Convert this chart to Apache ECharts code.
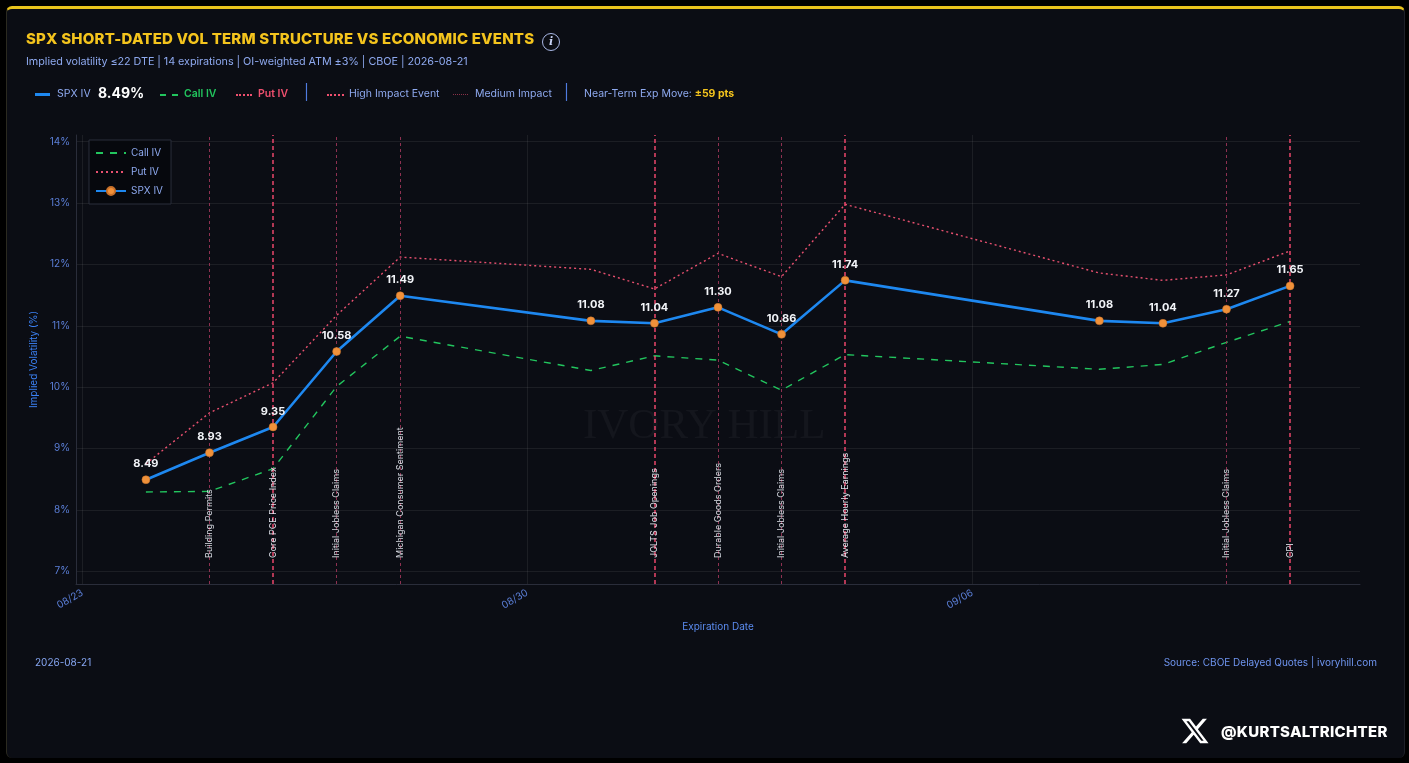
<!DOCTYPE html>
<html>
<head>
<meta charset="utf-8">
<title>SPX Short-Dated Vol Term Structure</title>
<script src="https://cdn.jsdelivr.net/npm/echarts@6/dist/echarts.min.js"></script>
<style>
    html, body { margin: 0; padding: 0; background: #000; width: 1409px; height: 763px; overflow: hidden; font-family: Inter, Roboto, "Noto Sans", sans-serif; }
    .card { position: absolute; left: 6px; top: 6px; width: 1399px; height: 752px; background: #0b0d14; border-top: 3px solid #e9c41c; border-left: 1px solid #2b2a20; border-right: 1px solid #1e2028; border-radius: 6px; box-sizing: border-box; }
    #chart { position: absolute; left: 0; top: 0; width: 1409px; height: 763px; }
    .title { position: absolute; left: 26px; top: 29px; color: #f4c41d; font-weight: 800; font-size: 15px; letter-spacing: 0.2px; white-space: nowrap; }
    .info { position: absolute; left: 542px; top: 33px; width: 16px; height: 16px; border: 1.5px solid #a9b8e6; border-radius: 50%; color: #c9d4f5; font: italic bold 11px "DejaVu Serif", serif; text-align: center; line-height: 16px; }
    .sub { position: absolute; left: 26px; top: 55px; color: #8ea9ef; font-size: 10.8px; letter-spacing: -0.05px; white-space: nowrap; }
    .lg { position: absolute; top: 87px; height: 14px; line-height: 14px; font-size: 10.5px; color: #8ea9ef; white-space: nowrap; }
    .sw { position: absolute; top: 94px; height: 0; }
    .footer-l { position: absolute; left: 35px; top: 656px; color: #86a6f2; font-size: 10px; }
    .footer-r { position: absolute; right: 32px; top: 656px; color: #6f95f0; font-size: 10px; }
    .handle { position: absolute; left: 1180px; top: 716px; display: flex; align-items: center; color: #fff; font-weight: 800; font-size: 15px; letter-spacing: 0.3px; }
    .handle svg { margin-right: 11px; }
</style>
</head>
<body>
<div class="card"></div>
<div id="chart"></div>
<div class="title">SPX SHORT-DATED VOL TERM STRUCTURE VS ECONOMIC EVENTS</div>
<div class="info">i</div>
<div class="sub">Implied volatility ≤22 DTE | 14 expirations | OI-weighted ATM ±3% | CBOE | 2026-08-21</div>

<div class="sw" style="left:35px;width:15px;top:93px;border-top:3px solid #1e88f0;"></div>
<div class="lg" style="left:57px;">SPX IV</div>
<div class="lg" style="left:98px;top:86px;color:#fff;font-weight:700;font-size:14px;">8.49%</div>
<div class="sw" style="left:160px;width:18px;border-top:2px dashed #22c55e;"></div>
<div class="lg" style="left:184px;color:#22c55e;font-weight:600;">Call IV</div>
<div class="sw" style="left:236px;width:16px;border-top:2px dotted #f0506f;"></div>
<div class="lg" style="left:258px;color:#f0506f;font-weight:600;">Put IV</div>
<div class="lg" style="left:304px;top:85px;font-size:15px;color:#4f7be0;">|</div>
<div class="sw" style="left:327px;width:17px;border-top:2px dotted #f0506f;"></div>
<div class="lg" style="left:349px;">High Impact Event</div>
<div class="sw" style="left:453px;width:15px;border-top:1px dotted #8a3048;"></div>
<div class="lg" style="left:475px;">Medium Impact</div>
<div class="lg" style="left:564px;top:85px;font-size:15px;color:#4f7be0;">|</div>
<div class="lg" style="left:584px;">Near-Term Exp Move: <span style="color:#f4c41d;font-weight:700;">±59 pts</span></div>

<div class="footer-l">2026-08-21</div>
<div class="footer-r">Source: CBOE Delayed Quotes | ivoryhill.com</div>
<div class="handle">
    <svg width="30" height="30" viewBox="0 0 24 24"><path fill="#fff" d="M18.24 2.25h3.31l-7.23 8.26 8.5 11.24h-6.66l-5.21-6.82-5.970 6.82H1.68l7.73-8.84L1.25 2.25h6.83l4.71 6.23 5.45-6.23zm-1.16 17.52h1.830L7.08 4.13H5.12l11.96 15.64z"/></svg>
    <span>@KURTSALTRICHTER</span>
</div>

<script>
// 到期日与隐含波动率
var expiries = ['2026-08-24', '2026-08-25', '2026-08-26', '2026-08-27', '2026-08-28', '2026-08-31', '2026-09-01',
    '2026-09-02', '2026-09-03', '2026-09-04', '2026-09-08', '2026-09-09', '2026-09-10', '2026-09-11'];
var spxIV = [8.49, 8.93, 9.35, 10.58, 11.49, 11.08, 11.04, 11.30, 10.86, 11.74, 11.08, 11.04, 11.27, 11.65];
var callIV = [8.29, 8.30, 8.67, 10.01, 10.83, 10.27, 10.51, 10.44, 9.95, 10.53, 10.29, 10.37, 10.73, 11.07];
var putIV = [8.75, 9.58, 10.07, 11.17, 12.12, 11.92, 11.60, 12.18, 11.80, 12.98, 11.86, 11.74, 11.83, 12.22];

// 经济事件
var eventDates = ['2026-08-25', '2026-08-26', '2026-08-27', '2026-08-28', '2026-09-01', '2026-09-02', '2026-09-03',
    '2026-09-04', '2026-09-10', '2026-09-11'];
var eventNames = ['Building Permits', 'Core PCE Price Index', 'Initial Jobless Claims', 'Michigan Consumer Sentiment',
    'JOLTS Job Openings', 'Durable Goods Orders', 'Initial Jobless Claims', 'Average Hourly Earnings',
    'Initial Jobless Claims', 'CPI'];
var eventImpact = ['medium', 'high', 'medium', 'medium', 'high', 'medium', 'medium', 'high', 'medium', 'high'];

// 刻度
var xTicks = ['2026-08-23', '2026-08-30', '2026-09-06'];
var yTicks = [7, 8, 9, 10, 11, 12, 13, 14];

(function () {
    var DAY = 86400000;
    var ts = function (d) { return Date.parse(d); };
    var pad = function (n) { return (n < 10 ? '0' : '') + n; };
    var xs = expiries.map(ts);

    var pairs = function (vals) {
        return vals.map(function (v, i) { return [xs[i], v]; });
    };

    var eventLines = eventDates.map(function (d, i) {
        var high = eventImpact[i] === 'high';
        return {
            xAxis: ts(d),
            name: eventNames[i],
            lineStyle: high
                ? { color: '#e8466a', width: 1.6, type: [4, 3], opacity: 0.95 }
                : { color: '#9c3558', width: 1, type: [3, 3], opacity: 0.9 }
        };
    });

    var mycharts = echarts.init(document.getElementById('chart'));
    var option = {
        backgroundColor: 'transparent',
        animation: false,
        grid: { left: 76, right: 49, top: 135, bottom: 179, containLabel: false },
        legend: {
            // 只有 SPX IV 显示圆点
            data: [
                { name: 'Call IV', itemStyle: { opacity: 0 } },
                { name: 'Put IV', itemStyle: { opacity: 0 } },
                { name: 'SPX IV' }
            ],
            orient: 'vertical',
            left: 89,
            top: 140,
            itemGap: 9,
            itemWidth: 30,
            itemHeight: 10,
            padding: [8, 8, 8, 6],
            backgroundColor: 'rgba(6,8,12,0.9)',
            borderColor: '#2a2e3a',
            borderWidth: 1,
            textStyle: { color: '#8ea9ef', fontSize: 10, fontFamily: 'Inter' }
        },
        graphic: [{
            type: 'text',
            left: 583,
            top: 405,
            z: 0,
            silent: true,
            style: {
                text: 'IVORY HILL',
                fill: 'rgba(255,255,255,0.04)',
                font: '43px "Liberation Serif", serif'
            }
        }],
        xAxis: {
            type: 'value',
            min: xs[0] - 1.1 * DAY,
            max: xs[xs.length - 1] + 1.1 * DAY,
            name: 'Expiration Date',
            nameLocation: 'middle',
            nameGap: 38,
            nameTextStyle: { color: '#5b8bef', fontSize: 10, fontFamily: 'Inter' },
            axisLine: { show: true, lineStyle: { color: '#2a2d3a' } },
            axisTick: { show: false, customValues: xTicks.map(ts) },
            axisLabel: {
                customValues: xTicks.map(ts),
                rotate: 30,
                margin: 8,
                color: '#5b7fd8',
                fontSize: 10,
                fontFamily: 'Inter',
                formatter: function (v) {
                    var d = new Date(v);
                    return pad(d.getUTCMonth() + 1) + '/' + pad(d.getUTCDate());
                }
            },
            splitLine: { show: true, lineStyle: { color: 'rgba(255,255,255,0.07)' } }
        },
        yAxis: {
            type: 'value',
            min: 6.79,
            max: 14.11,
            name: 'Implied Volatility (%)',
            nameLocation: 'middle',
            nameGap: 36,
            nameTextStyle: { color: '#3b82f6', fontSize: 10, fontFamily: 'Inter' },
            axisLine: { show: true, lineStyle: { color: '#2a2d3a' } },
            axisTick: { show: false, customValues: yTicks },
            axisLabel: {
                customValues: yTicks,
                color: '#5b7fd8',
                fontSize: 10,
                fontFamily: 'Inter',
                margin: 6,
                formatter: '{value}%'
            },
            splitLine: { show: true, lineStyle: { color: 'rgba(255,255,255,0.07)' } }
        },
        series: [
            {
                name: 'Call IV',
                type: 'line',
                data: pairs(callIV),
                symbol: 'none',
                z: 3,
                lineStyle: { color: '#22c55e', width: 1.4, type: [7, 7] },
                itemStyle: { color: '#22c55e' },
                markLine: {
                    silent: true,
                    symbol: 'none',
                    animation: false,
                    data: eventLines,
                    label: {
                        show: true,
                        position: 'insideStart',
                        distance: 26,
                        formatter: '{b}',
                        color: '#e8ebf3',
                        fontSize: 9,
                        fontFamily: 'Inter'
                    }
                }
            },
            {
                name: 'Put IV',
                type: 'line',
                data: pairs(putIV),
                symbol: 'none',
                z: 3,
                lineStyle: { color: '#e8506f', width: 1.4, type: [2, 3] },
                itemStyle: { color: '#e8506f' }
            },
            {
                name: 'SPX IV',
                type: 'line',
                data: pairs(spxIV),
                symbol: 'circle',
                symbolSize: 8,
                z: 5,
                lineStyle: { color: '#1e88f0', width: 2.6 },
                itemStyle: { color: '#f0913a', borderColor: '#c7702a', borderWidth: 0.5 },
                label: {
                    show: true,
                    position: 'top',
                    distance: 6,
                    color: '#f2f4f8',
                    fontWeight: 'bold',
                    fontSize: 11,
                    fontFamily: 'Inter',
                    formatter: function (p) { return p.value[1].toFixed(2); }
                }
            }
        ]
    };
    mycharts.setOption(option);
    window.addEventListener('resize', function () {
        mycharts.resize();
    });
})();
</script>
</body>
</html>
